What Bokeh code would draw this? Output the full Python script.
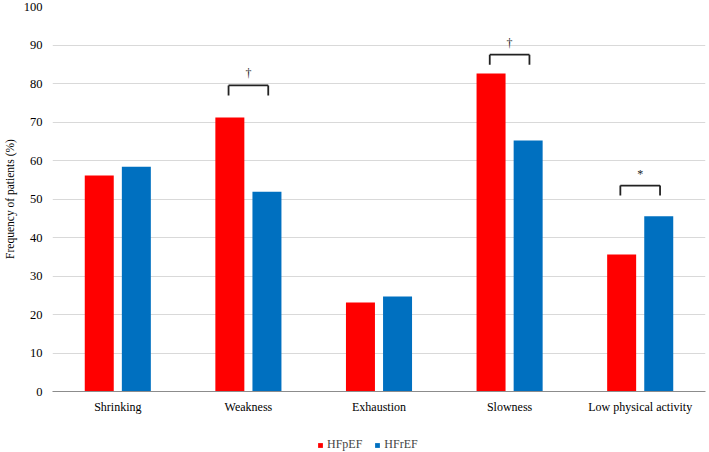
from bokeh.plotting import figure
from bokeh.layouts import column
from bokeh.models import FactorRange, ColumnDataSource, Legend, LegendItem, FixedTicker, Range1d
from bokeh.transform import dodge
from bokeh.core.properties import value
from bokeh.embed import file_html
from bokeh.resources import INLINE

categories = ["Shrinking", "Weakness", "Exhaustion", "Slowness", "Low physical activity"]
hfpef = [56.1, 71.2, 23.1, 82.6, 35.6]
hfref = [58.4, 51.9, 24.7, 65.2, 45.5]
y_ticks = [0, 10, 20, 30, 40, 50, 60, 70, 80, 90, 100]
series_names = ["HFpEF", "HFrEF"]

sig_categories = ["Weakness", "Slowness", "Low physical activity"]
sig_level = [79.5, 87.5, 53.5]
sig_symbol = ["\u2020", "\u2020", "*"]

FONT = "Liberation Serif"
RED = "#ff0000"
BLUE = "#0070c0"

p = figure(x_range=FactorRange(*categories), y_range=Range1d(0, 100),
           width=709, height=420, output_backend="svg", toolbar_location=None,
           min_border_top=6, min_border_right=4, min_border_left=10, min_border_bottom=29)
p.outline_line_color = None
p.background_fill_color = "white"

src = ColumnDataSource(dict(cat=categories, hfpef=hfpef, hfref=hfref))
p.vbar(x=dodge("cat", -0.142, range=p.x_range), top="hfpef", width=0.222,
       source=src, fill_color=RED, line_color=None)
p.vbar(x=dodge("cat", 0.142, range=p.x_range), top="hfref", width=0.222,
       source=src, fill_color=BLUE, line_color=None)

tick_drop = [v - 2.6 for v in sig_level]
sym_y = [v + 1.3 for v in sig_level]
ssrc = ColumnDataSource(dict(cat=sig_categories, y=sig_level, y2=tick_drop, ys=sym_y, s=sig_symbol))
p.segment(x0=dodge("cat", -0.152, range=p.x_range), x1=dodge("cat", 0.152, range=p.x_range),
          y0="y", y1="y", source=ssrc, line_color="#222222", line_width=1.8)
p.segment(x0=dodge("cat", -0.152, range=p.x_range), x1=dodge("cat", -0.152, range=p.x_range),
          y0="y", y1="y2", source=ssrc, line_color="#222222", line_width=1.8)
p.segment(x0=dodge("cat", 0.152, range=p.x_range), x1=dodge("cat", 0.152, range=p.x_range),
          y0="y", y1="y2", source=ssrc, line_color="#222222", line_width=1.8)
p.text(x="cat", y="ys", text="s", source=ssrc, text_align="center", text_baseline="bottom",
       text_font=value(FONT), text_font_size="12px", text_color="#222222")

p.xgrid.grid_line_color = None
p.ygrid.grid_line_color = "#d9d9d9"
p.ygrid.grid_line_width = 1
p.yaxis.ticker = FixedTicker(ticks=y_ticks)

p.yaxis.axis_line_color = None
p.yaxis.major_tick_line_color = None
p.yaxis.minor_tick_line_color = None
p.yaxis.major_tick_out = 0
p.yaxis.minor_tick_out = 0
p.yaxis.major_label_standoff = 10
p.yaxis.axis_label = "Frequency of patients (%)"
p.yaxis.axis_label_standoff = 5
p.yaxis.axis_label_text_font = FONT
p.yaxis.axis_label_text_font_style = "normal"
p.yaxis.axis_label_text_font_size = "11.5px"
p.yaxis.axis_label_text_color = "#000000"
p.yaxis.major_label_text_font = FONT
p.yaxis.major_label_text_font_size = "12.5px"
p.yaxis.major_label_text_color = "#000000"

p.xaxis.axis_line_color = "#8c8c8c"
p.xaxis.axis_line_width = 1.2
p.xaxis.major_tick_line_color = None
p.xaxis.minor_tick_line_color = None
p.xaxis.major_tick_out = 0
p.xaxis.minor_tick_out = 0
p.xaxis.major_label_standoff = 8
p.xaxis.major_label_text_font = FONT
p.xaxis.major_label_text_font_size = "12px"
p.xaxis.major_label_text_color = "#000000"

# legend row below the chart (its frame is aligned with the chart frame by the column)
lg = figure(width=709, height=32, output_backend="svg", toolbar_location=None,
            x_range=FactorRange(*categories), y_range=Range1d(0, 100),
            x_axis_type=None, y_axis_type=None,
            min_border_top=0, min_border_bottom=0, min_border_left=0, min_border_right=0)
lg.outline_line_color = None
lg.xgrid.grid_line_color = None
lg.ygrid.grid_line_color = None
# zero-height proxies (bottom == top): they only supply the legend swatches
g1 = lg.vbar(x="cat", top="hfpef", bottom="hfpef", width=0.2, source=src,
             fill_color=RED, line_color=None)
g2 = lg.vbar(x="cat", top="hfref", bottom="hfref", width=0.2, source=src,
             fill_color=BLUE, line_color=None)
legend = Legend(items=[LegendItem(label=series_names[0], renderers=[g1]),
                       LegendItem(label=series_names[1], renderers=[g2])],
                orientation="horizontal", location=(265, 0),
                label_text_font=FONT, label_text_font_size="12px",
                glyph_width=6, glyph_height=6, label_standoff=4, spacing=12,
                label_height=12, label_width=20,
                border_line_color=None, background_fill_alpha=0,
                padding=2, margin=0)
lg.add_layout(legend, "center")

layout = column(p, lg, spacing=0)
open("out.html", "w").write(file_html(layout, INLINE))
